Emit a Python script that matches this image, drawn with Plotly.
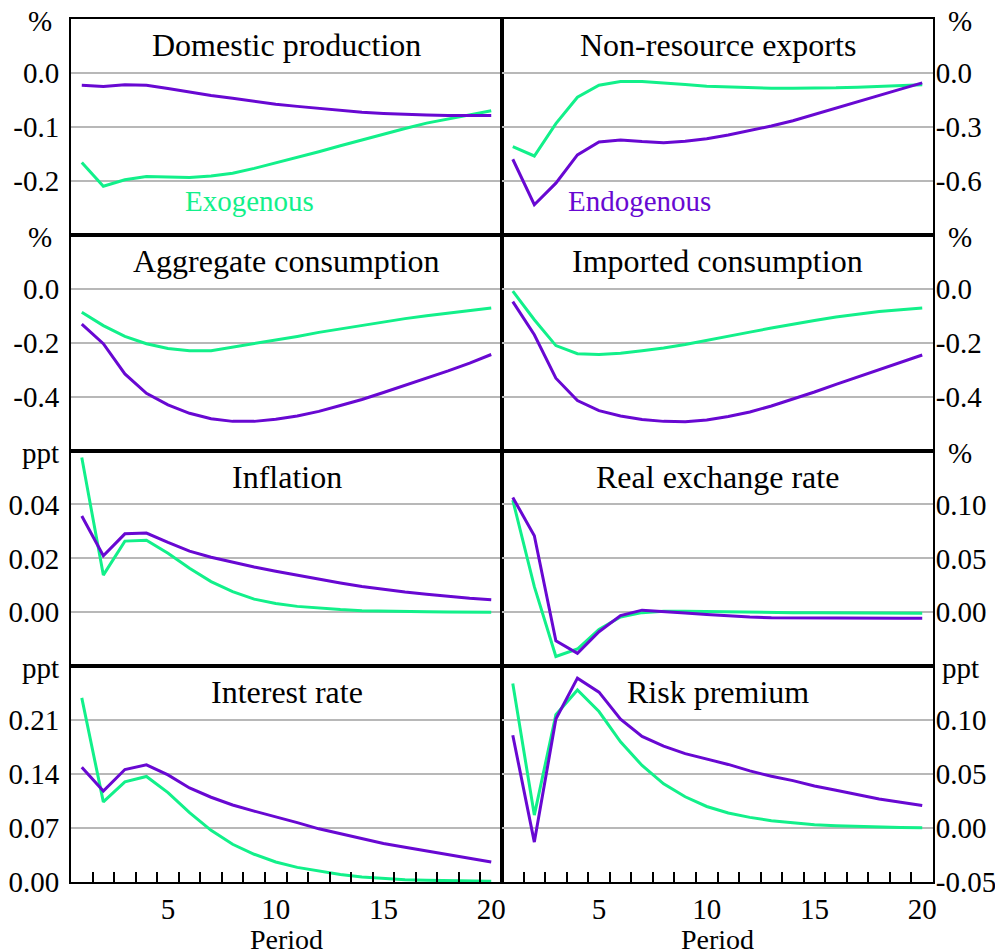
import plotly.graph_objects as go
from plotly.subplots import make_subplots

periods = list(range(1, 21))

# Domestic production (%)
dom_exo = [-0.166, -0.210, -0.198, -0.192, -0.193, -0.194, -0.191, -0.186, -0.177, -0.167,
           -0.157, -0.146, -0.135, -0.124, -0.113, -0.103, -0.093, -0.085, -0.078, -0.070]
dom_endo = [-0.023, -0.025, -0.022, -0.023, -0.029, -0.036, -0.042, -0.047, -0.053, -0.058,
            -0.062, -0.066, -0.070, -0.073, -0.075, -0.077, -0.078, -0.079, -0.079, -0.079]

# Non-resource exports (%)
nrx_exo = [-0.410, -0.462, -0.282, -0.135, -0.068, -0.048, -0.048, -0.055, -0.065, -0.074,
           -0.079, -0.083, -0.085, -0.085, -0.085, -0.083, -0.079, -0.076, -0.072, -0.066]
nrx_endo = [-0.480, -0.733, -0.613, -0.456, -0.384, -0.373, -0.382, -0.388, -0.380, -0.366,
            -0.345, -0.321, -0.295, -0.266, -0.230, -0.195, -0.160, -0.125, -0.090, -0.055]

# Aggregate consumption (%)
agg_exo = [-0.087, -0.137, -0.177, -0.204, -0.222, -0.230, -0.230, -0.217, -0.205, -0.190,
           -0.177, -0.162, -0.149, -0.136, -0.123, -0.111, -0.100, -0.090, -0.080, -0.072]
agg_endo = [-0.131, -0.204, -0.316, -0.388, -0.431, -0.462, -0.482, -0.492, -0.492, -0.484,
            -0.472, -0.455, -0.433, -0.411, -0.385, -0.359, -0.332, -0.305, -0.276, -0.244]

# Imported consumption (%)
imp_exo = [-0.009, -0.115, -0.211, -0.241, -0.244, -0.239, -0.230, -0.220, -0.207, -0.191,
           -0.176, -0.161, -0.146, -0.131, -0.118, -0.105, -0.094, -0.085, -0.078, -0.072]
imp_endo = [-0.048, -0.171, -0.332, -0.415, -0.452, -0.472, -0.485, -0.492, -0.493, -0.487,
            -0.474, -0.457, -0.435, -0.410, -0.383, -0.355, -0.328, -0.301, -0.274, -0.246]

# Inflation (ppt)
inf_exo = [0.0574, 0.0138, 0.0264, 0.0267, 0.0219, 0.0163, 0.0114, 0.0077, 0.0049, 0.0033,
           0.0022, 0.0015, 0.0010, 0.0006, 0.0004, 0.0003, 0.0002, 0.0001, 0.0001, 0.0000]
inf_endo = [0.0357, 0.0210, 0.0291, 0.0294, 0.0259, 0.0227, 0.0204, 0.0185, 0.0168, 0.0152,
            0.0137, 0.0122, 0.0109, 0.0096, 0.0085, 0.0075, 0.0067, 0.0059, 0.0052, 0.0047]

# Real exchange rate (%)
rer_exo = [0.104, 0.0238, -0.041, -0.034, -0.016, -0.0043, -0.0003, 0.001, 0.001, 0.0006,
           0.0003, 0.0, -0.0003, -0.0004, -0.0005, -0.0006, -0.0007, -0.0008, -0.0009, -0.0009]
rer_endo = [0.1065, 0.071, -0.0265, -0.038, -0.018, -0.003, 0.002, 0.001, -0.0006, -0.002,
            -0.0034, -0.0043, -0.005, -0.0052, -0.0054, -0.0055, -0.0056, -0.0056, -0.0056, -0.0056]

# Interest rate (ppt)
int_exo = [0.239, 0.104, 0.130, 0.137, 0.116, 0.090, 0.067, 0.049, 0.036, 0.026,
           0.019, 0.014, 0.0096, 0.0065, 0.0043, 0.003, 0.0022, 0.0017, 0.0013, 0.0009]
int_endo = [0.149, 0.118, 0.146, 0.152, 0.139, 0.122, 0.110, 0.100, 0.092, 0.084,
            0.077, 0.069, 0.063, 0.057, 0.050, 0.045, 0.040, 0.035, 0.030, 0.026]

# Risk premium (ppt)
rp_exo = [0.134, 0.012, 0.105, 0.128, 0.108, 0.080, 0.058, 0.041, 0.029, 0.020,
          0.014, 0.0099, 0.0068, 0.0046, 0.0031, 0.0022, 0.0015, 0.0009, 0.0006, 0.0003]
rp_endo = [0.086, -0.013, 0.101, 0.139, 0.126, 0.101, 0.085, 0.076, 0.069, 0.064,
           0.059, 0.053, 0.048, 0.044, 0.039, 0.035, 0.031, 0.027, 0.024, 0.021]

titles = ["Domestic production", "Non-resource exports", "Aggregate consumption",
          "Imported consumption", "Inflation", "Real exchange rate", "Interest rate", "Risk premium"]
units = ["%", "%", "%", "%", "ppt", "%", "ppt", "ppt"]
exo_series = [dom_exo, nrx_exo, agg_exo, imp_exo, inf_exo, rer_exo, int_exo, rp_exo]
endo_series = [dom_endo, nrx_endo, agg_endo, imp_endo, inf_endo, rer_endo, int_endo, rp_endo]
y_ranges = [[-0.3, 0.1], [-0.9, 0.3], [-0.6, 0.2], [-0.6, 0.2],
            [-0.02, 0.06], [-0.05, 0.15], [0.0, 0.28], [-0.05, 0.15]]
y_tickvals = [[0.0, -0.1, -0.2], [0.0, -0.3, -0.6], [0.0, -0.2, -0.4], [0.0, -0.2, -0.4],
              [0.04, 0.02, 0.0], [0.10, 0.05, 0.0], [0.21, 0.14, 0.07, 0.0], [0.10, 0.05, 0.0, -0.05]]
y_ticktext = [["0.0", "-0.1", "-0.2"], ["0.0", "-0.3", "-0.6"], ["0.0", "-0.2", "-0.4"],
              ["0.0", "-0.2", "-0.4"], ["0.04", "0.02", "0.00"], ["0.10", "0.05", "0.00"],
              ["0.21", "0.14", "0.07", "0.00"], ["0.10", "0.05", "0.00", "-0.05"]]
x_tickvals = [5, 10, 15, 20]
x_minor_ticks = [p + 0.5 for p in periods[:-1]]
x_title = "Period"

GREEN = "#12F08A"
PURPLE = "#6808D2"
FONT = "Liberation Serif"
FS = 29
FS_TITLE = 32

fig = make_subplots(rows=4, cols=2, horizontal_spacing=0, vertical_spacing=0)

for i in range(8):
    r, c = i // 2 + 1, i % 2 + 1
    fig.add_trace(go.Scatter(x=periods, y=exo_series[i], mode="lines",
                             line=dict(color=GREEN, width=3), showlegend=False,
                             name="Exogenous"), row=r, col=c)
    fig.add_trace(go.Scatter(x=periods, y=endo_series[i], mode="lines",
                             line=dict(color=PURPLE, width=3), showlegend=False,
                             name="Endogenous"), row=r, col=c)
    bottom = (r == 4)
    fig.update_xaxes(range=[0.5, 20.5], showline=True, linecolor="black", linewidth=2,
                     mirror=True, showgrid=False, zeroline=False, automargin=False,
                     tickmode="array", tickvals=x_tickvals if bottom else [],
                     ticks="inside" if bottom else "", ticklen=0.1, tickcolor="black",
                     showticklabels=bottom,
                     tickfont=dict(family=FONT, size=FS, color="black"),
                     minor=dict(tickmode="array", tickvals=x_minor_ticks if bottom else [],
                                ticks="inside" if bottom else "",
                                ticklen=10, tickwidth=1.5, tickcolor="black", showgrid=False),
                     row=r, col=c)
    fig.update_yaxes(range=y_ranges[i], showline=True, linecolor="black", linewidth=2,
                     mirror=True, showgrid=True, gridcolor="#b8b8b8", gridwidth=1.5,
                     zeroline=False, tickmode="array", tickvals=y_tickvals[i],
                     ticktext=y_ticktext[i], ticks="", automargin=False,
                     side="left" if c == 1 else "right",
                     ticklabelstandoff=4 if c == 1 else -5,
                     tickfont=dict(family=FONT, size=FS, color="black"),
                     row=r, col=c)
    xd = "x domain" if i == 0 else f"x{i+1} domain"
    yd = "y domain" if i == 0 else f"y{i+1} domain"
    # panel title
    fig.add_annotation(text=titles[i], xref=xd, yref=yd, x=0.5, y=1, xanchor="center",
                       yanchor="middle", yshift=-26, showarrow=False,
                       font=dict(family=FONT, size=FS_TITLE, color="black"))
    # unit label
    fig.add_annotation(text=units[i], xref=xd, yref=yd, x=0 if c == 1 else 1, y=1,
                       xanchor="center", yanchor="middle", yshift=-2,
                       xshift=-31 if c == 1 else 27, showarrow=False,
                       font=dict(family=FONT, size=FS, color="black"))
    # x-axis title
    if bottom:
        fig.add_annotation(text=x_title, xref=xd, yref=yd, x=0.5, y=0, xanchor="center",
                           yanchor="middle", yshift=-57, showarrow=False,
                           font=dict(family=FONT, size=28, color="black"))

fig.add_annotation(text="Exogenous", xref="x", yref="y", x=8.79, y=-0.238, showarrow=False,
                   font=dict(family=FONT, size=FS, color=GREEN))
fig.add_annotation(text="Endogenous", xref="x2", yref="y2", x=6.9, y=-0.715, showarrow=False,
                   font=dict(family=FONT, size=FS, color=PURPLE))

# page body has an 8px margin, so the figure is sized to fill the rest of the window
fig.update_layout(width=995, height=944, margin=dict(l=63, r=70, t=11, b=70),
                  paper_bgcolor="white", plot_bgcolor="white",
                  font=dict(family=FONT, size=FS, color="black"))

fig.write_html("out.html")
